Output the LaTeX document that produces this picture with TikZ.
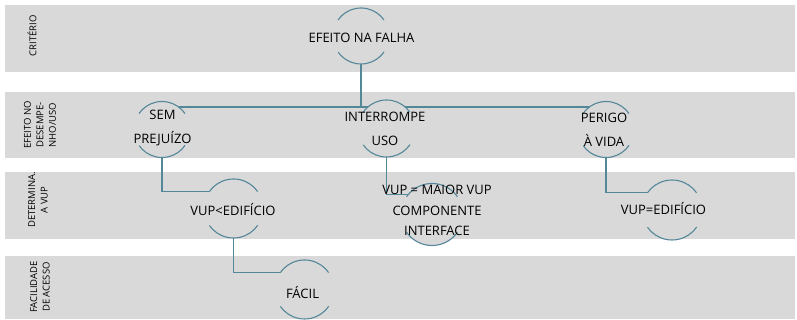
\documentclass[tikz,border=0pt]{standalone}
\usepackage{fontspec}
\setmainfont{Open Sans}
\usetikzlibrary{backgrounds}

\definecolor{bandgray}{RGB}{217,217,217}
\definecolor{linkblue}{RGB}{84,135,152}

\begin{document}
\begin{tikzpicture}[
  x=1pt, y=1pt,
  band/.style={fill=bandgray, draw=none},
  ring/.style={circle, fill=bandgray, draw=linkblue, line width=1.1pt, inner sep=0pt, outer sep=0pt,
    minimum size={2*#1},
    dash pattern=on {110*#1*pi/180} off {70*#1*pi/180}, dash phase={145*#1*pi/180}},
  ringtext/.style={font=\fontsize{13}{24}\selectfont, align=center, inner sep=0pt},
  rowlabel/.style={font=\fontsize{9.5}{12.5}\selectfont, align=center, rotate=90, inner sep=0pt},
  link/.style={draw=linkblue, line width=1.1pt}
]
\useasboundingbox (0,0) rectangle (797,320);

% row titles
\node[rowlabel] (L1) at (32, 284) {CRITÉRIO};
\node[rowlabel] (L2) at (40, 195) {EFEITO NO\\DESEMPE-\\NHO/USO};
\node[rowlabel] (L3) at (38, 120) {DETERMINA.\\A VUP};
\node[rowlabel] (L4) at (40, 33) {FACILIDADE\\DE ACESSO};

% rings (only top and bottom arcs are stroked)
\node[ring=28pt] (efeito) at (361, 284) {};
\node[ring=28pt] (sem) at (162, 190.5) {};
\node[ring=28.5pt] (interrompe) at (386.5, 191.5) {};
\node[ring=28pt] (perigo) at (606, 190.5) {};
\node[ring=29.5pt] (vupmenor) at (233.5, 111.5) {};
\node[ring=31pt] (vupmaior) at (432, 105.5) {};
\node[ring=30pt] (vupigual) at (672, 110) {};
\node[ring=29.5pt] (facil) at (304.5, 30.5) {};

\node[ringtext] (efeito_t) at (361.5, 282) {EFEITO NA FALHA};
\node[ringtext] (sem_t) at (162.5, 192) {SEM\\PREJUÍZO};
\node[ringtext] (interrompe_t) at (385, 191) {INTERROMPE\\USO};
\node[ringtext] (perigo_t) at (604, 190) {PERIGO\\À VIDA};
\node[ringtext] (vupmenor_t) at (233, 110) {VUP<EDIFÍCIO};
\node[ringtext, font=\fontsize{13}{20.5}\selectfont] (vupmaior_t) at (437, 109.5) {VUP = MAIOR VUP\\COMPONENTE\\INTERFACE};
\node[ringtext] (vupigual_t) at (663.5, 111) {VUP=EDIFÍCIO};
\node[ringtext] (facil_t) at (302.5, 27) {FÁCIL};

\coordinate (hub) at (361, 213);

\begin{pgfonlayer}{background}
  \fill[band] (5,248) rectangle (795,315);
  \fill[band] (5,162) rectangle (795,228);
  \fill[band] (5,81) rectangle (795,148);
  \fill[band] (5,1) rectangle (795,64);

  \draw[link] (efeito) -- (hub);
  \draw[link] (sem |- hub) -- (perigo |- hub);
  \draw[link] (sem) |- (vupmenor.145);
  \draw[link] (interrompe) |- (vupmaior.140);
  \draw[link] (perigo) |- (vupigual.145);
  \draw[link] (vupmenor) |- (facil.145);
\end{pgfonlayer}
\end{tikzpicture}
\end{document}
